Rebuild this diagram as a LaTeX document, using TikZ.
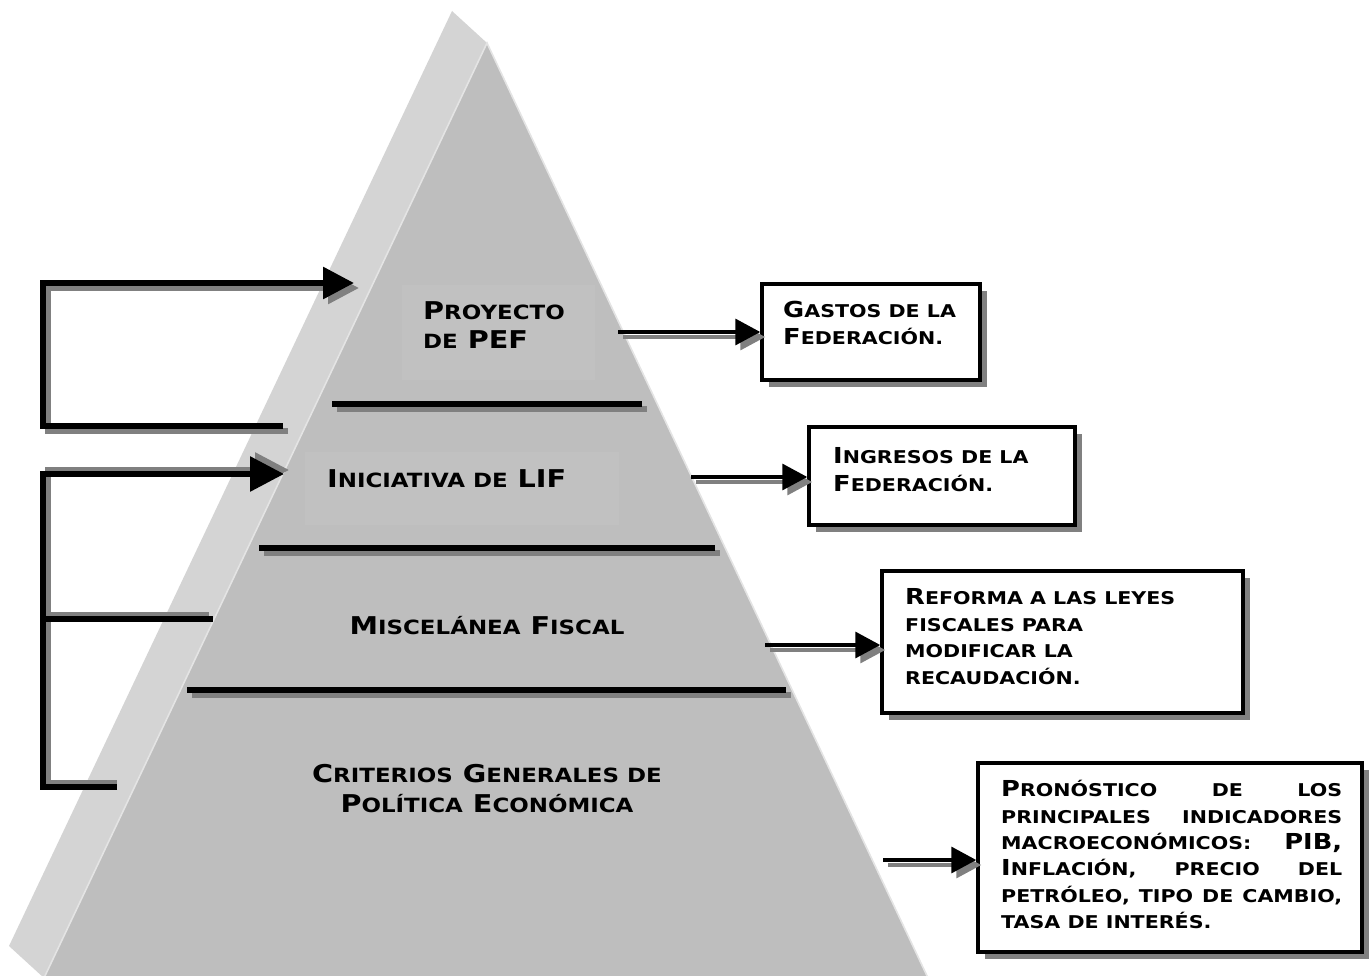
\documentclass[tikz,border=0pt]{standalone}
\usepackage{fontspec}
\newfontfamily\cpf{DejaVu Sans}[FakeStretch=1.17]
\usetikzlibrary{arrows.meta,shadows,calc}
\definecolor{faceL}{RGB}{212,212,212}
\definecolor{faceD}{RGB}{190,190,190}
\definecolor{faint}{RGB}{193,193,193}
\definecolor{hilite}{RGB}{228,228,228}
\definecolor{shd}{RGB}{128,128,128}
\makeatletter
\newcommand\lo[1]{{\fontsize{\fpeval{0.8*\f@size}}{\f@baselineskip}\selectfont #1}}
\makeatother
\tikzset{
  pyr/.style={font=\cpf\bfseries\fontsize{24.5}{29}\selectfont, inner sep=0pt, text=black},
  bxt/.style={font=\cpf\bfseries\fontsize{22}{27}\selectfont, inner sep=0pt, anchor=base west, text=black},
  box/.style={draw=black, line width=3.5pt, fill=white,
    drop shadow={shadow xshift=7pt, shadow yshift=-7pt, opacity=1, fill=shd}},
  divider/.style={line width=5.5pt},
  brk/.style={line width=6pt},
  arr/.style={line width=3.5pt, -{Triangle[length=25pt,width=26pt]}},
  shdw/.style={draw=shd}
}
\begin{document}
\begin{tikzpicture}[x=1pt,y=-1pt]
\useasboundingbox (0,0) rectangle (1372,976);
% pyramid
\coordinate (A0) at (452,11);
\coordinate (A1) at (487,43);
\coordinate (BL) at (9,946);
\coordinate (FL) at (44,978);
\coordinate (FR) at (928,978);
\fill[faceL] (A0) -- (A1) -- (FL) -- (BL) -- cycle;
\fill[faceD] (A1) -- (FR) -- (FL) -- cycle;
\draw[hilite, line width=1.6pt] (FL) -- (A1) -- (FR);
% faint text frames
\fill[faint] (402,285) rectangle (595,380);
\fill[faint] (305,452) rectangle (619,525);
% dividers
\coordinate (d1a) at (332,404); \coordinate (d1b) at (642,404);
\coordinate (d2a) at (259,548); \coordinate (d2b) at (715,548);
\coordinate (d3a) at (187,690); \coordinate (d3b) at (786,690);
\foreach \d in {d1,d2,d3}{
  \draw[divider, shdw] ($(\d a)+(5,5)$) -- ($(\d b)+(5,5)$);
  \draw[divider] (\d a) -- (\d b);
}
% pyramid labels
\node[pyr, anchor=base west] (p1a) at (423,319) {P\lo{ROYECTO}};
\node[pyr, anchor=base west] (p1b) at (423,348) {\lo{DE} PEF};
\node[pyr, anchor=base west] (p2) at (327,487) {I\lo{NICIATIVA DE} LIF};
\node[pyr, anchor=base] (p3) at (487,634) {M\lo{ISCELÁNEA} F\lo{ISCAL}};
\node[pyr, anchor=base] (p4a) at (487,782) {C\lo{RITERIOS} G\lo{ENERALES DE}};
\node[pyr, anchor=base] (p4b) at (487,812) {P\lo{OLÍTICA} E\lo{CONÓMICA}};
% left brackets
\coordinate (k1a) at (283,426); \coordinate (k1b) at (43,426);
\coordinate (k1c) at (43,283);  \coordinate (k1d) at (354,283);
\draw[brk, shdw, -{Triangle[length=31pt,width=31pt]}]
  ($(k1a)+(5,5)$) -- ($(k1b)+(5,5)$) -- ($(k1c)+(5,5)$) -- ($(k1d)+(5,5)$);
\draw[brk, -{Triangle[length=31pt,width=31pt]}] (k1a) -- (k1b) -- (k1c) -- (k1d);
\coordinate (k2a) at (117,787); \coordinate (k2b) at (43,787);
\coordinate (k2c) at (43,474);  \coordinate (k2d) at (284,474);
\coordinate (k2e) at (43,619);  \coordinate (k2f) at (213,619);
\draw[brk, shdw, -{Triangle[length=34pt,width=34pt]}]
  ($(k2a)+(0,-4)$) -- ($(k2b)+(5,-4)$) -- ($(k2c)+(5,-4)$) -- ($(k2d)+(5,-4)$);
\draw[brk, shdw] ($(k2e)+(5,-4)$) -- ($(k2f)+(-4,-4)$);
\draw[brk, -{Triangle[length=34pt,width=34pt]}] (k2a) -- (k2b) -- (k2c) -- (k2d);
\draw[brk] (k2e) -- (k2f);
% boxes
\node[box, minimum width=218pt, minimum height=96pt] (b1) at (871,332) {};
\node[box, minimum width=266pt, minimum height=98pt] (b2) at (942,476) {};
\node[box, minimum width=361pt, minimum height=142pt] (b3) at (1062.5,642) {};
\node[box, minimum width=384pt, minimum height=189pt] (b4) at (1170,857.5) {};
% right arrows
\coordinate (a1) at (618,332);
\coordinate (a2) at (691,477);
\coordinate (a3) at (765,645);
\coordinate (a4) at (883,860);
\foreach \a/\b in {a1/b1,a2/b2,a3/b3,a4/b4}{
  \draw[arr, shdw] ($(\a)+(5,5)$) -- ($(\a -| \b.west)+(5,5)$);
  \draw[arr] (\a) -- (\a -| \b.west);
}
% box texts
\node[bxt] (t1a) at (783,317) {G\lo{ASTOS DE LA}};
\node[bxt] (t1b) at (783,344) {F\lo{EDERACIÓN.}};
\node[bxt] (t2a) at (833,463) {I\lo{NGRESOS DE LA}};
\node[bxt] (t2b) at (833,491) {F\lo{EDERACIÓN.}};
\node[bxt] (t3a) at (905,604) {R\lo{EFORMA A LAS LEYES}};
\node[bxt] (t3b) at (905,631) {\lo{FISCALES PARA}};
\node[bxt] (t3c) at (905,657) {\lo{MODIFICAR LA}};
\node[bxt] (t3d) at (905,684) {\lo{RECAUDACIÓN.}};
\node[bxt] (t4a) at (1001,796) {\hbox to 341pt{P\lo{RONÓSTICO}\hfill\lo{DE}\hfill\lo{LOS}}};
\node[bxt] (t4b) at (1001,823) {\hbox to 341pt{\lo{PRINCIPALES}\hfill\lo{INDICADORES}}};
\node[bxt] (t4c) at (1001,849) {\hbox to 341pt{\lo{MACROECONÓMICOS:}\hfill PIB,}};
\node[bxt] (t4d) at (1001,875) {\hbox to 341pt{I\lo{NFLACIÓN,}\hfill\lo{PRECIO}\hfill\lo{DEL}}};
\node[bxt] (t4e) at (1001,902) {\hbox to 341pt{\lo{PETRÓLEO,}\hfill\lo{TIPO}\hfill\lo{DE}\hfill\lo{CAMBIO,}}};
\node[bxt] (t4f) at (1001,928) {\lo{TASA DE INTERÉS.}};
\end{tikzpicture}
\end{document}
